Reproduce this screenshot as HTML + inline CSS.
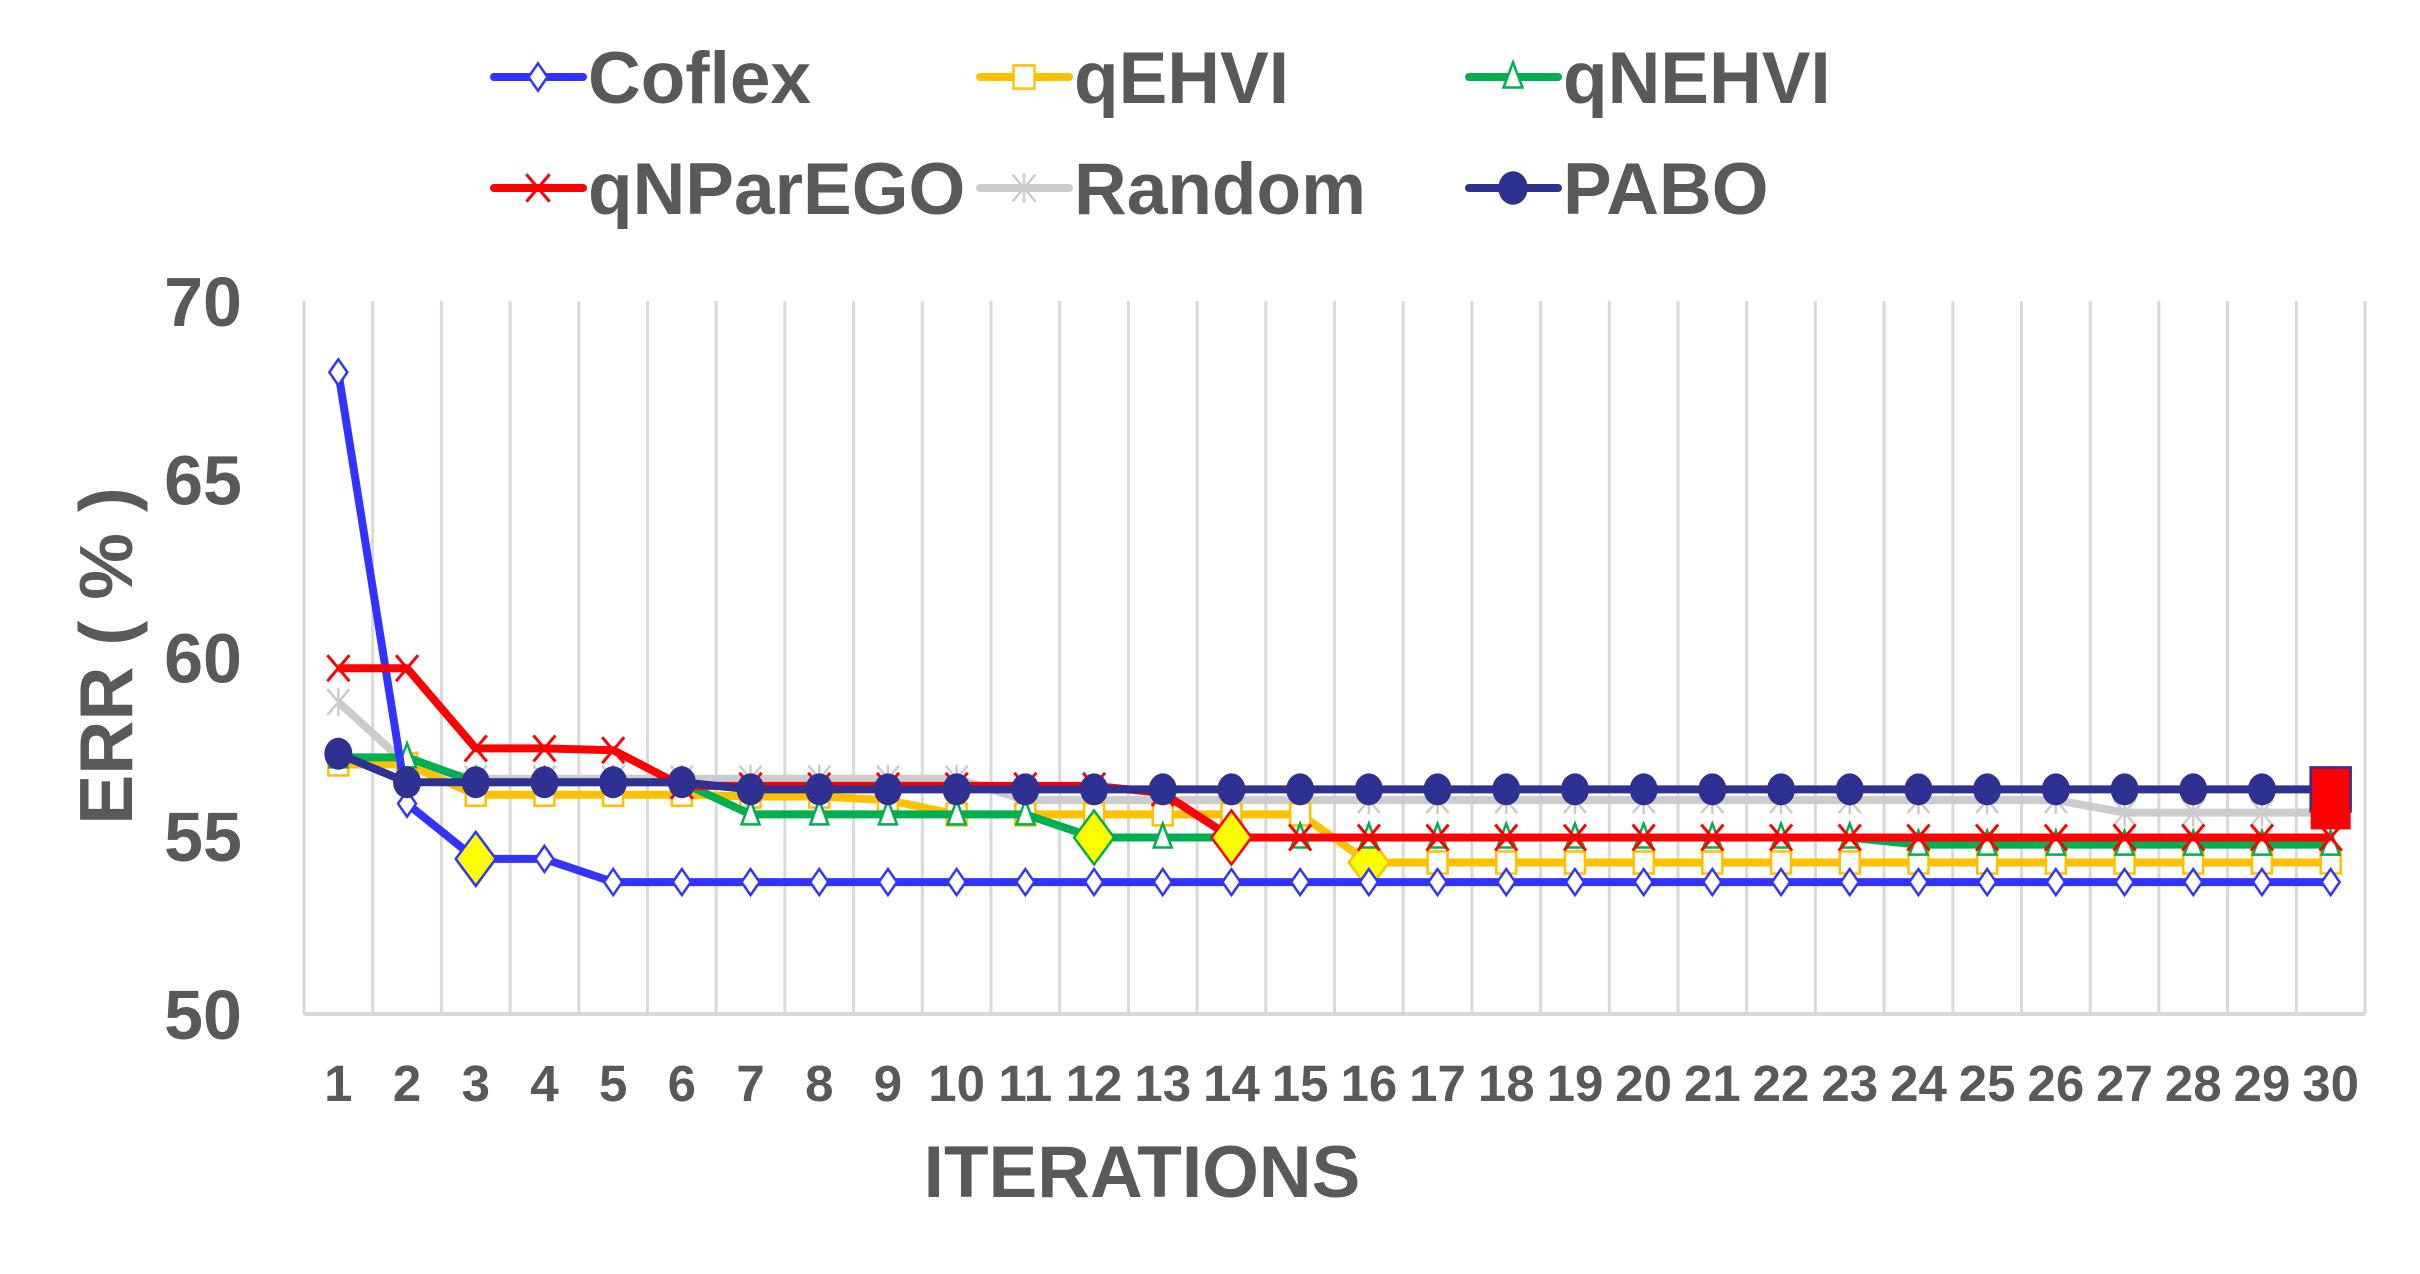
<!DOCTYPE html>
<html><head><meta charset="utf-8"><style>
html,body{margin:0;padding:0;background:#fff;}
svg{display:block;font-family:"Liberation Sans",Arial,sans-serif;font-weight:bold;}
</style></head><body>
<svg id="chart" width="2420" height="1274" viewBox="0 0 2420 1274" xmlns="http://www.w3.org/2000/svg">
<g id="grid"></g>
<g id="series"></g>
<g id="axes"></g>
<g id="legend"></g>
<text x="0" y="0" transform="translate(132,656) rotate(-90)" text-anchor="middle" font-size="75" fill="#595959">ERR ( % )</text>
<text x="1142" y="1197" text-anchor="middle" font-size="73" fill="#595959">ITERATIONS</text>
</svg>
<script>
const categories = Array.from({length:30},(_,i)=>String(i+1));
const yTicks = [50,55,60,65,70];
const seriesNames = ["Coflex","qEHVI","qNEHVI","qNParEGO","Random","PABO"];
const coflex = [68,55.9,54.35,54.35,53.7,53.7,53.7,53.7,53.7,53.7,53.7,53.7,53.7,53.7,53.7,53.7,53.7,53.7,53.7,53.7,53.7,53.7,53.7,53.7,53.7,53.7,53.7,53.7,53.7,53.7];
const qehvi = [57,57,56.15,56.15,56.15,56.15,56.1,56.1,56.0,55.6,55.6,55.6,55.6,55.6,55.6,54.25,54.25,54.25,54.25,54.25,54.25,54.25,54.25,54.25,54.25,54.25,54.25,54.25,54.25,54.25];
const qnehvi = [57.2,57.2,56.5,56.5,56.5,56.5,55.6,55.6,55.6,55.6,55.6,54.95,54.95,54.95,54.95,54.95,54.95,54.95,54.95,54.95,54.95,54.95,54.95,54.75,54.75,54.75,54.75,54.75,54.75,54.75];
const qnparego = [59.7,59.7,57.45,57.45,57.4,56.4,56.4,56.4,56.4,56.4,56.4,56.4,56.2,54.95,54.95,54.95,54.95,54.95,54.95,54.95,54.95,54.95,54.95,54.95,54.95,54.95,54.95,54.95,54.95,54.95];
const random = [58.75,57.0,56.6,56.6,56.6,56.6,56.6,56.6,56.6,56.6,56.0,56.0,56.0,56.0,56.0,56.0,56.0,56.0,56.0,56.0,56.0,56.0,56.0,56.0,56.0,56.0,55.65,55.65,55.65,55.65];
const pabo = [57.3,56.5,56.5,56.5,56.5,56.5,56.3,56.3,56.3,56.3,56.3,56.3,56.3,56.3,56.3,56.3,56.3,56.3,56.3,56.3,56.3,56.3,56.3,56.3,56.3,56.3,56.3,56.3,56.3,56.3];
const highlightCoflex = 3, highlightQnehvi = 12, highlightQnparego = 14, highlightQehvi = 16;

const NS="http://www.w3.org/2000/svg";
const L=304,R=2365,T=301,B=1014,yMin=50,yMax=70;
const step=(R-L)/categories.length;
const xPos=i=>L+step*(i+0.5);
const yPos=v=>B-(v-yMin)/(yMax-yMin)*(B-T);
function mk(tag,attrs,parent){const e=document.createElementNS(NS,tag);for(const k in attrs)e.setAttribute(k,attrs[k]);parent.appendChild(e);return e;}
const grid=document.getElementById('grid'),axes=document.getElementById('axes'),ser=document.getElementById('series'),leg=document.getElementById('legend');
for(let i=0;i<=categories.length;i++){
  const g=mk('line',{x1:L+step*i,x2:L+step*i,y1:T,y2:B,stroke:'#d9d9d9','stroke-width':3},grid);
  
  
}
const base=mk('line',{x1:L,x2:R,y1:B,y2:B,stroke:'#d9d9d9','stroke-width':4},axes);


yTicks.forEach(v=>{
  const t=mk('text',{x:242,y:yPos(v)+25,'text-anchor':'end','font-size':70,fill:'#595959'},axes);
  t.textContent=v;
  
  
});
categories.forEach((c,i)=>{
  const t=mk('text',{x:xPos(i),y:1101,'text-anchor':'middle','font-size':51,fill:'#595959'},axes);
  t.textContent=c;
  
  
});
function marker(type,x,y,color,parent,s){
  s=s||1;let e;
  if(type==='diamond')e=mk('polygon',{points:`${x},${y-13*s} ${x+9*s},${y} ${x},${y+13*s} ${x-9*s},${y}`,fill:'#fff',stroke:color,'stroke-width':2.5},parent);
  else if(type==='square')e=mk('rect',{x:x-10*s,y:y-11*s,width:20*s,height:22*s,fill:'#fff',stroke:color,'stroke-width':2.5},parent);
  else if(type==='triangle')e=mk('polygon',{points:`${x},${y-14*s} ${x+9*s},${y+10*s} ${x-9*s},${y+10*s}`,fill:'#fff',stroke:color,'stroke-width':2.5},parent);
  else if(type==='x'){e=mk('path',{d:`M${x-11*s},${y-13*s}L${x+11*s},${y+13*s}M${x+11*s},${y-13*s}L${x-11*s},${y+13*s}`,stroke:color,'stroke-width':3,fill:'none'},parent);}
  else if(type==='star'){e=mk('path',{d:`M${x-11*s},${y-13*s}L${x+11*s},${y+13*s}M${x+11*s},${y-13*s}L${x-11*s},${y+13*s}M${x},${y-14*s}L${x},${y+14*s}`,stroke:color,'stroke-width':2.5,fill:'none'},parent);}
  else if(type==='circle')e=mk('ellipse',{cx:x,cy:y,rx:14*s,ry:16*s,fill:color},parent);
  return e;
}
const defs=[
  {name:'Coflex',data:coflex,color:'#3333ff',m:'diamond',hl:highlightCoflex},
  {name:'qEHVI',data:qehvi,color:'#ffc000',m:'square',hl:highlightQehvi},
  {name:'qNEHVI',data:qnehvi,color:'#00b050',m:'triangle',hl:highlightQnehvi},
  {name:'qNParEGO',data:qnparego,color:'#ff0000',m:'x',hl:highlightQnparego},
  {name:'Random',data:random,color:'#cccccc',m:'star',hl:0},
  {name:'PABO',data:pabo,color:'#2e3192',m:'circle',hl:0}
];
const order=[4,1,2,0,3,5];
order.forEach(k=>{
  const d=defs[k];
  const g=mk('g',{},ser);
  
  
  const pts=d.data.map((v,i)=>xPos(i)+','+yPos(v)).join(' ');
  const pl=mk('polyline',{points:pts,fill:'none',stroke:d.color,'stroke-width':8,'stroke-linejoin':'round'},g);
  
  
  d.data.forEach((v,i)=>{
    if(d.hl===i+1){
      const p=mk('polygon',{points:`${xPos(i)},${yPos(v)-27} ${xPos(i)+20},${yPos(v)} ${xPos(i)},${yPos(v)+27} ${xPos(i)-20},${yPos(v)}`,fill:'#ffff00',stroke:d.color,'stroke-width':2.5},g);
      
      
      return;
    }
    if(d.name==='PABO'&&i===d.data.length-1)return;
    const e=marker(d.m,xPos(i),yPos(v),d.color,g);
    
    
  });
});
const li=pabo.length-1;
const fin=mk('rect',{x:xPos(li)-20,y:yPos(pabo[li])-22,width:40,height:44,fill:'#ff0000',stroke:'#2e3192','stroke-width':2.5},ser);


const fin2=mk('rect',{x:xPos(li)-20,y:yPos(pabo[li])+20,width:40,height:20,fill:'#ff0000'},ser);


const legPos=[[491,77],[977,77],[1466,77],[491,188],[977,188],[1466,188]];
defs.forEach((d,k)=>{
  const [x,y]=legPos[k];
  const g=mk('g',{},leg);
  
  
  mk('line',{x1:x+3,x2:x+92,y1:y,y2:y,stroke:d.color,'stroke-width':8,'stroke-linecap':'round'},g);
  marker(d.m,x+47,y,d.color,g,1.05);
  const t=mk('text',{x:x+97,y:y+26,'font-size':73,fill:'#595959'},g);
  t.textContent=d.name;
});
</script>
</body></html>
